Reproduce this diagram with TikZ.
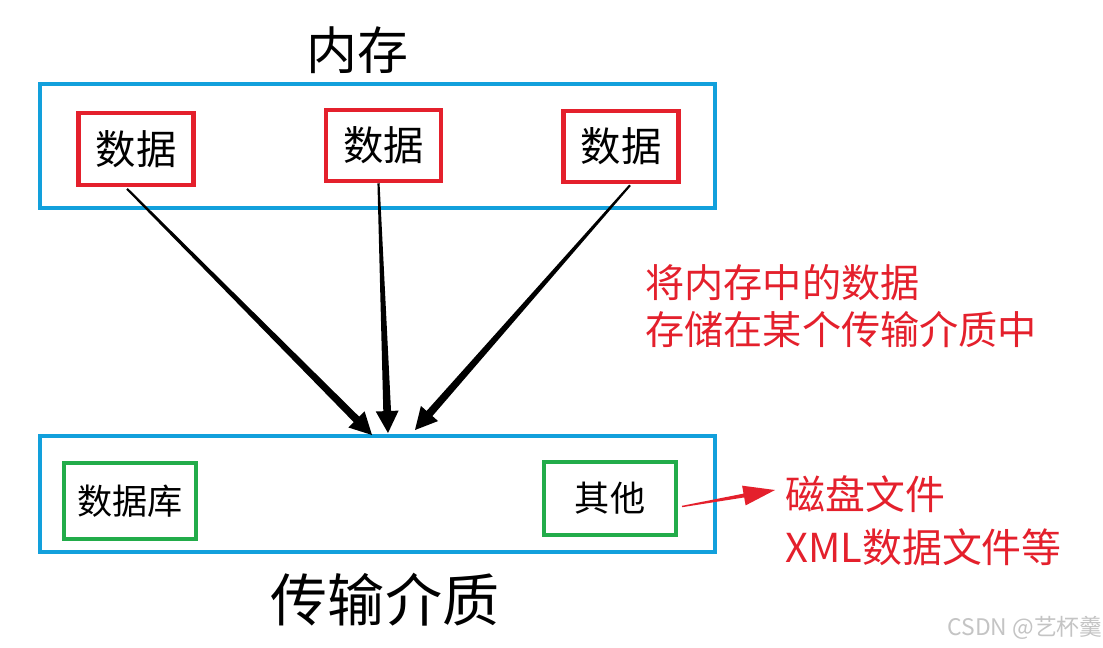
\documentclass[tikz,border=0pt]{standalone}
\usepackage{fontspec}
\usepackage{tikz}
\usetikzlibrary{calc,arrows.meta}
\newfontfamily\cjk{Noto Sans CJK SC}
\definecolor{frame}{HTML}{12A0DC}
\definecolor{hot}{HTML}{E4202C}
\definecolor{okgreen}{HTML}{22AC4A}
\definecolor{wmark}{HTML}{C4C4C4}
\tikzset{
  outer/.style={draw=frame, line width=2.4pt, minimum width=13.5cm, inner sep=0pt},
  datum/.style={draw=hot, line width=2.3pt, minimum width=2.3cm, minimum height=1.43cm, inner sep=0pt, font=\cjk\fontsize{23}{23}\selectfont},
  store/.style={draw=okgreen, line width=2.3pt, minimum width=2.64cm, minimum height=1.52cm, inner sep=0pt, font=\cjk\fontsize{20}{20}\selectfont},
  title/.style={font=\cjk\fontsize{29}{29}\selectfont},
  note/.style={text=hot, align=left, inner sep=0pt},
}

\begin{document}
\begin{tikzpicture}[x=0.02cm, y=-0.02cm]
  \useasboundingbox[fill=white] (0,0) rectangle (1103,647);
  % memory
  \node[title] (memt) at (357,50) {内存};
  \node[outer, minimum height=2.48cm] (mem) at (377.5,146) {};
  \node[datum] (d1) at (136,149) {数据};
  \node[datum] (d2) at (383.5,145.5) {数据};
  \node[datum] (d3) at (621,146.5) {数据};
  % medium
  \node[outer, minimum height=2.32cm] (med) at (377.5,494) {};
  \node[title, font=\cjk\fontsize{32.5}{32.5}\selectfont] (medt) at (385,600) {传输介质};
  \node[store] (db) at (130,501) {数据库};
  \node[store, minimum height=1.46cm] (oth) at (610,498.5) {其他};
  % notes
  \node[note, anchor=west, font=\cjk\fontsize{22.3}{26.7}\selectfont] (save) at (645,306)
    {将内存中的数据\\存储在某个传输介质中};
  \node[note, anchor=west, font=\cjk\fontsize{22.7}{30}\selectfont] (files) at (785,521)
    {磁盘文件\\XML数据文件等};
  % tapered arrows: start, tip, colour, start/neck half width, head length, head half width
  \coordinate (s1) at ($(d1.south)+(-9,2)$);
  \coordinate (s2) at ($(d2.south)+(-5,0)$);
  \coordinate (s3) at ($(d3.south)+(9,1)$);
  \coordinate (s4) at ($(oth.east)+(4,8)$);
  \coordinate (t1) at (372,435);
  \coordinate (t2) at (388,433);
  \coordinate (t3) at (415,430);
  \coordinate (t4) at (775,490);
  \foreach \s/\t/\c/\wa/\wb/\hl/\hw in {s1/t1/black/0.6/2.2/12.5/6.5,
                                        s2/t2/black/0.6/2.2/12.5/6.5,
                                        s3/t3/black/0.6/2.2/12.5/6.5,
                                        s4/t4/hot/0.4/1.1/18/5.7}{
    \coordinate (m) at ($(\t)!\hl pt!(\s)$);
    \fill[\c] ($(\s)!\wa pt!90:(\t)$) -- ($(m)!\wb pt!90:(\t)$) -- ($(m)!\hw pt!90:(\t)$)
      -- (\t) -- ($(m)!\hw pt!-90:(\t)$) -- ($(m)!\wb pt!-90:(\t)$)
      -- ($(\s)!\wa pt!-90:(\t)$) -- cycle;
  }
  \node[text=wmark, font=\cjk\fontsize{13}{13}\selectfont] (wm) at (1025,628) {CSDN @艺杯羹};
\end{tikzpicture}
\end{document}
